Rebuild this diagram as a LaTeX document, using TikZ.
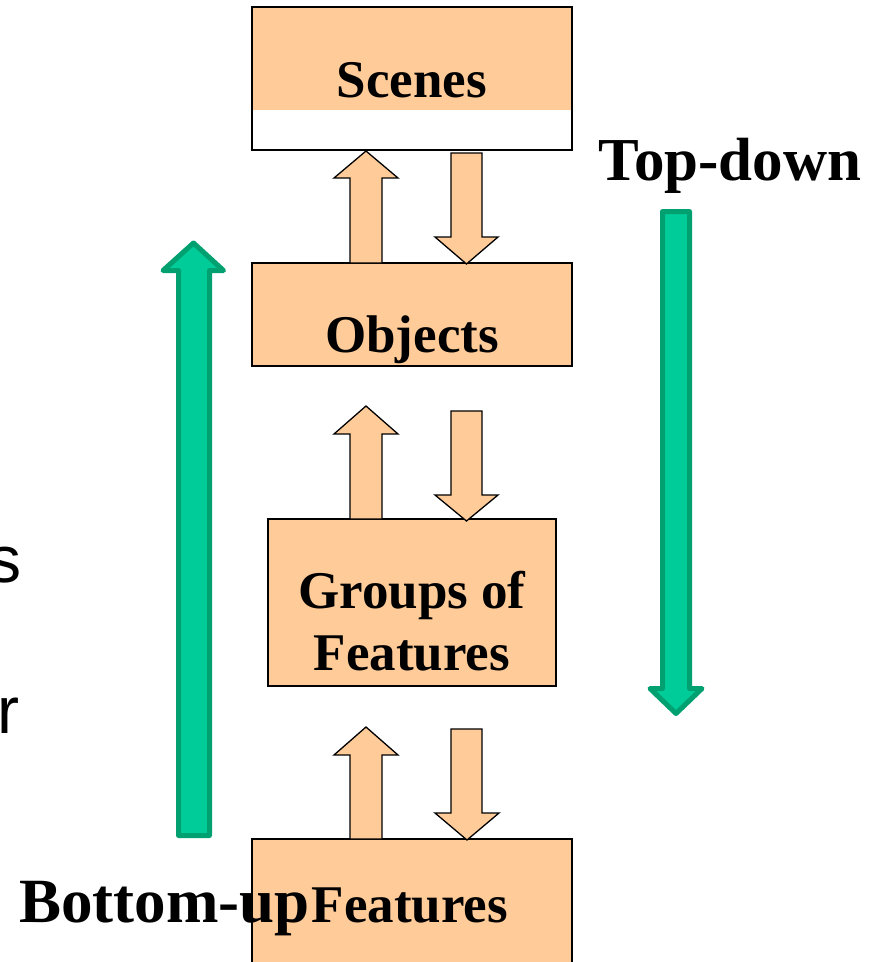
\documentclass[tikz,border=0pt]{standalone}
\usepackage{fontspec}
\setmainfont{Liberation Serif}
\newfontfamily\sansfnt{Liberation Sans}
\definecolor{boxorange}{HTML}{FFCC99}
\definecolor{grfill}{HTML}{00CC99}
\definecolor{grdraw}{HTML}{00A070}
\begin{document}
\begin{tikzpicture}[x=1pt,y=-1pt,
  box/.style={draw=black,line width=1.3pt,fill=boxorange},
  blockarrow/.style={draw=black,line width=1.3pt,fill=boxorange,line join=miter},
  greenarrow/.style={draw=grdraw,line width=5pt,fill=grfill,line join=round},
  lbl/.style={inner sep=0pt,anchor=base,font=\bfseries\fontsize{53}{58}\selectfont},
  biglbl/.style={inner sep=0pt,anchor=base,font=\bfseries\fontsize{61}{66}\selectfont},
  frag/.style={inner sep=0pt,anchor=base east,font=\sansfnt\fontsize{66}{70}\selectfont}]
\useasboundingbox (0,0) rectangle (872,962);
% Scenes box (orange top, white lower strip)
\fill[boxorange] (252,7) rectangle (572,110);
\draw[black,line width=1.3pt] (252,7) rectangle (572,150);
\node[lbl] (scenes) at (412,97) {Scenes};
% Objects box
\draw[box] (252,263) rectangle (572,366);
\node[lbl] (objects) at (412,352) {Objects};
% Groups of Features box
\draw[box] (268,519) rectangle (556,686);
\node[lbl] (groups1) at (412,608) {Groups of};
\node[lbl] (groups2) at (412,670) {Features};
% Features box (runs off bottom)
\draw[box] (252,839) rectangle (572,990);
\node[lbl] (features) at (410,922) {Features};
% Block arrows pair 1
\draw[blockarrow] (350,263) -- (350,178) -- (334,178) -- (366,151) -- (398,178) -- (382,178) -- (382,263) -- cycle;
\draw[blockarrow] (451,153) -- (482,153) -- (482,237) -- (498,237) -- (466.5,264) -- (435,237) -- (451,237) -- cycle;
% Block arrows pair 2
\draw[blockarrow] (350,519) -- (350,434) -- (334,434) -- (366,406) -- (398,434) -- (382,434) -- (382,519) -- cycle;
\draw[blockarrow] (451,411) -- (482,411) -- (482,495) -- (498,495) -- (466.5,521) -- (435,495) -- (451,495) -- cycle;
% Block arrows pair 3
\draw[blockarrow] (350,839) -- (350,755) -- (334,755) -- (366,727) -- (398,755) -- (382,755) -- (382,839) -- cycle;
\draw[blockarrow] (451,729) -- (482,729) -- (482,813) -- (499,813) -- (467,840) -- (435,813) -- (451,813) -- cycle;
% Green arrows
\draw[greenarrow] (178.5,835.5) -- (178.5,270.5) -- (163,270.5) -- (193.5,243) -- (223.5,270.5) -- (209.5,270.5) -- (209.5,835.5) -- cycle;
\draw[greenarrow] (662.5,211.5) -- (689.5,211.5) -- (689.5,688.5) -- (702,688.5) -- (676,713.5) -- (650,688.5) -- (662.5,688.5) -- cycle;
% Labels
\node[biglbl] (topdown) at (730,180) {Top-down};
\node[biglbl,anchor=base west,font=\bfseries\fontsize{63}{68}\selectfont] (bottomup) at (19,922) {Bottom-up};
% cut-off text fragments at left edge (cut off in the reference too)
\node[frag] (fragS) at (22,582) {s};
\node[frag] (fragR) at (20,733) {r};
\end{tikzpicture}
\end{document}
